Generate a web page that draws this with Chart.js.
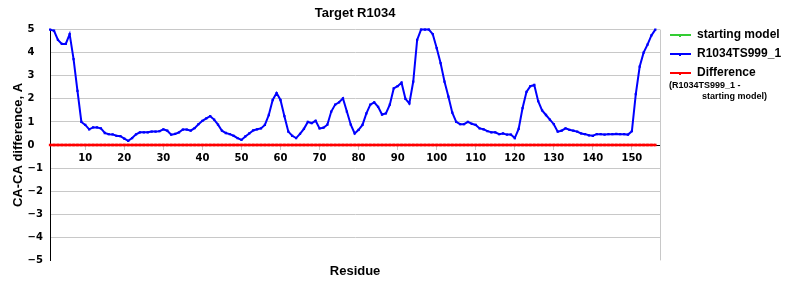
<!DOCTYPE html>
<html>
<head>
<meta charset="utf-8">
<script src="https://cdn.jsdelivr.net/npm/chart.js@4"></script>
<style>
  html, body { margin: 0; padding: 0; background: #fff; }
</style>
</head>
<body>
<canvas id="chart" width="800" height="300"></canvas>
<script>
// === Chart data ===
const titleText = "Target R1034";
const xTitle = "Residue";
const yTitle = "CA-CA difference, A";
const xTicks = [10, 20, 30, 40, 50, 60, 70, 80, 90, 100, 110, 120, 130, 140, 150];
const yTicks = [-5, -4, -3, -2, -1, 0, 1, 2, 3, 4, 5];
const seriesNames = ["starting model", "R1034TS999_1", "Difference"];
const differenceNote = ["(R1034TS999_1 -", "starting model)"];

const residues = Array.from({ length: 156 }, (_, i) => i + 1);

const startingModel = []; // nothing plotted for the starting model

const r1034ts999 = [
  5.0, 4.95, 4.55, 4.38, 4.38, 4.8, 3.72, 2.35, 1.0, 0.87,
  0.68, 0.76, 0.76, 0.72, 0.52, 0.47, 0.46, 0.4, 0.38, 0.28,
  0.18, 0.3, 0.46, 0.55, 0.55, 0.55, 0.58, 0.58, 0.6, 0.68,
  0.62, 0.45, 0.48, 0.55, 0.67, 0.67, 0.62, 0.73, 0.9, 1.05,
  1.15, 1.25, 1.1, 0.88, 0.62, 0.52, 0.47, 0.4, 0.3, 0.22,
  0.37, 0.5, 0.63, 0.68, 0.72, 0.87, 1.3, 1.95, 2.25, 1.95,
  1.25, 0.58, 0.4, 0.3, 0.48, 0.7, 1.0, 0.95, 1.05, 0.72,
  0.75, 0.88, 1.45, 1.75, 1.85, 2.02, 1.45, 0.88, 0.5, 0.66,
  0.87, 1.37, 1.75, 1.85, 1.65, 1.32, 1.37, 1.75, 2.45, 2.55,
  2.7, 2.0, 1.8, 2.75, 4.55, 5.0, 5.0, 5.0, 4.8, 4.2,
  3.55, 2.75, 2.1, 1.4, 1.0, 0.9, 0.9, 1.0, 0.92, 0.87,
  0.72, 0.68, 0.6, 0.55, 0.55, 0.47, 0.5, 0.45, 0.45, 0.3,
  0.7, 1.6, 2.3, 2.55, 2.6, 1.9, 1.5, 1.3, 1.1, 0.9,
  0.58, 0.62, 0.72, 0.66, 0.62, 0.58, 0.5, 0.47, 0.42, 0.4,
  0.47, 0.47, 0.45, 0.47, 0.47, 0.48, 0.47, 0.47, 0.45, 0.6,
  2.2, 3.4, 4.0, 4.35, 4.75, 5.0
];

const difference = [
  0, 0, 0, 0, 0, 0, 0, 0, 0, 0, 0, 0, 0, 0, 0, 0, 0, 0, 0, 0,
  0, 0, 0, 0, 0, 0, 0, 0, 0, 0, 0, 0, 0, 0, 0, 0, 0, 0, 0, 0,
  0, 0, 0, 0, 0, 0, 0, 0, 0, 0, 0, 0, 0, 0, 0, 0, 0, 0, 0, 0,
  0, 0, 0, 0, 0, 0, 0, 0, 0, 0, 0, 0, 0, 0, 0, 0, 0, 0, 0, 0,
  0, 0, 0, 0, 0, 0, 0, 0, 0, 0, 0, 0, 0, 0, 0, 0, 0, 0, 0, 0,
  0, 0, 0, 0, 0, 0, 0, 0, 0, 0, 0, 0, 0, 0, 0, 0, 0, 0, 0, 0,
  0, 0, 0, 0, 0, 0, 0, 0, 0, 0, 0, 0, 0, 0, 0, 0, 0, 0, 0, 0,
  0, 0, 0, 0, 0, 0, 0, 0, 0, 0, 0, 0, 0, 0, 0, 0
];

const toPoints = values => values.map((v, i) => ({ x: residues[i], y: v }));

const GRID = "#c8c8c8";
const boldFont = (size, family) => ({ family: family || "'Liberation Sans', Arial, sans-serif", size, weight: "bold" });

// legend drawn on the right, like the original
const sideLegend = {
  id: "sideLegend",
  afterDraw(chart) {
    const ctx = chart.ctx;
    const x0 = chart.chartArea.right + 10;
    const rows = [35, 54, 73];
    ctx.save();
    chart.data.datasets.forEach((ds, i) => {
      const y = rows[i];
      ctx.strokeStyle = ds.borderColor;
      ctx.lineWidth = 2;
      ctx.beginPath();
      ctx.moveTo(x0, y);
      ctx.lineTo(x0 + 21, y);
      ctx.stroke();
      ctx.fillStyle = ds.borderColor;
      ctx.fillRect(x0 + 9, y - 1, 2, 3);
      ctx.fillStyle = "#000";
      ctx.font = "bold 12px 'Liberation Sans', Arial, sans-serif";
      ctx.textBaseline = "middle";
      ctx.fillText(ds.label, x0 + 27, y);
    });
    ctx.font = "bold 9px 'Liberation Sans', Arial, sans-serif";
    ctx.fillText(differenceNote[0], x0 - 1, 86);
    ctx.fillText(differenceNote[1], x0 + 32, 97);
    ctx.restore();
  }
};

// grey frame line on the right of the plot
const rightBorder = {
  id: "rightBorder",
  beforeDatasetsDraw(chart) {
    const { ctx, chartArea } = chart;
    ctx.save();
    ctx.strokeStyle = GRID;
    ctx.lineWidth = 1;
    ctx.beginPath();
    ctx.moveTo(chartArea.right + 0.5, chartArea.top);
    ctx.lineTo(chartArea.right + 0.5, chartArea.bottom);
    ctx.stroke();
    ctx.restore();
  }
};

new Chart(document.getElementById("chart").getContext("2d"), {
  type: "line",
  data: {
    datasets: [
      {
        label: seriesNames[0],
        data: toPoints(startingModel),
        borderColor: "#33cc33",
        backgroundColor: "#33cc33",
        borderWidth: 2,
        pointRadius: 0
      },
      {
        label: seriesNames[1],
        data: toPoints(r1034ts999),
        borderColor: "#0000ff",
        backgroundColor: "#0000ff",
        borderWidth: 2,
        pointStyle: "rect",
        pointRadius: 1.6,
        pointBorderWidth: 0,
        tension: 0,
        clip: 4
      },
      {
        label: seriesNames[2],
        data: toPoints(difference),
        borderColor: "#ff0000",
        backgroundColor: "#ff0000",
        borderWidth: 2.5,
        pointStyle: "rect",
        pointRadius: 1.8,
        pointBorderWidth: 0,
        clip: 4
      }
    ]
  },
  options: {
    responsive: false,
    animation: false,
    layout: { padding: { left: 7, right: 140, top: 0, bottom: 21 } },
    plugins: {
      legend: { display: false },
      tooltip: { enabled: false },
      title: {
        display: true,
        text: titleText,
        fullSize: false,
        color: "#000",
        font: boldFont(13),
        padding: { top: 6, bottom: 8 }
      }
    },
    scales: {
      x: {
        type: "linear",
        min: 1,
        max: 157.2,
        position: { y: 0 },
        afterBuildTicks: axis => { axis.ticks = xTicks.map(v => ({ value: v })); },
        grid: { drawOnChartArea: false, tickLength: 4, color: GRID },
        border: { color: "#000", width: 1 },
        ticks: {
          autoSkip: false,
          maxRotation: 0,
          padding: 3,
          color: "#000",
          font: boldFont(10, "'DejaVu Sans', Verdana, sans-serif")
        }
      },
      x2: {
        type: "linear",
        min: 1,
        max: 157.2,
        position: "bottom",
        grid: { display: false, drawTicks: false },
        border: { display: false },
        ticks: { display: false },
        title: { display: true, text: xTitle, color: "#000", font: boldFont(13), padding: { top: 3, bottom: 0 } }
      },
      y: {
        min: -5,
        max: 5,
        afterBuildTicks: axis => { axis.ticks = yTicks.map(v => ({ value: v })); },
        grid: {
          drawTicks: false,
          color: c => (c.tick && c.tick.value === -5 ? "rgba(0,0,0,0)" : GRID)
        },
        border: { color: "#000", width: 1 },
        ticks: {
          crossAlign: "far",
          padding: 3.6,
          color: "#000",
          font: boldFont(10, "'DejaVu Sans', Verdana, sans-serif"),
          callback: v => (v < 0 ? "\u2212" + Math.abs(v) : String(v))
        }
      },
      // outer left axis only carries the title, so the tick labels can sit left-aligned
      yTitleAxis: {
        type: "linear",
        position: "left",
        weight: 1,
        min: -5,
        max: 5,
        grid: { display: false, drawTicks: false },
        border: { display: false },
        ticks: { display: false },
        title: { display: true, text: yTitle, color: "#000", font: boldFont(13), padding: { top: 4, bottom: 1 } }
      }
    }
  },
  plugins: [rightBorder, sideLegend]
});
</script>
</body>
</html>
